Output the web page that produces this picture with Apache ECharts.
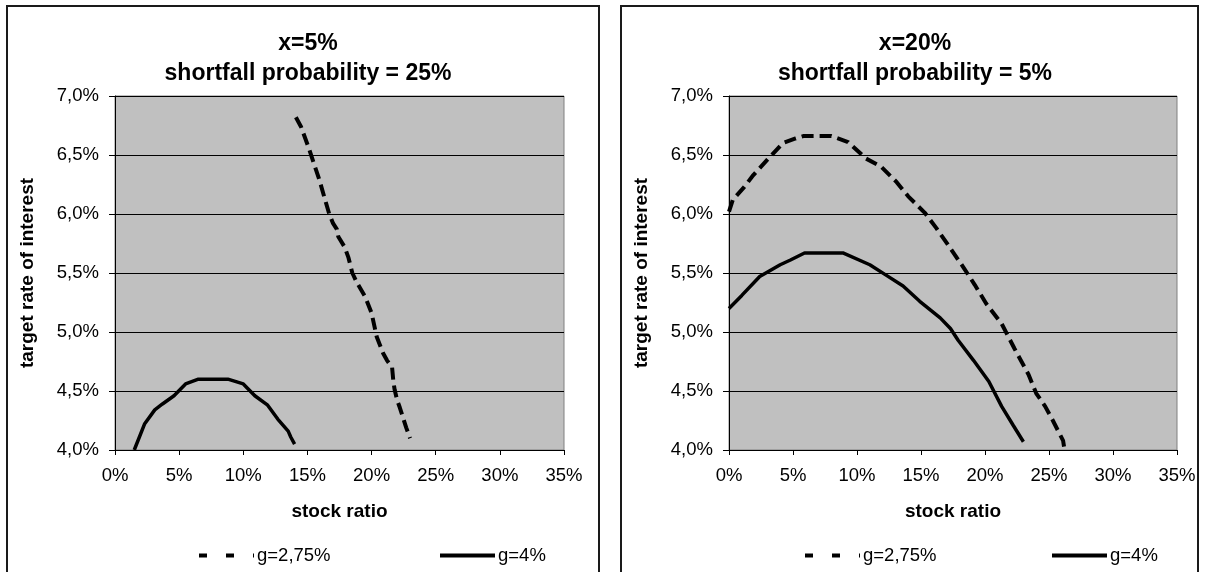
<!DOCTYPE html>
<html>
<head>
<meta charset="utf-8">
<script src="https://cdn.jsdelivr.net/npm/echarts@6/dist/echarts.min.js"></script>
<style>
  html, body { margin: 0; padding: 0; background: #ffffff; }
  #chart { width: 1210px; height: 572px; }
</style>
</head>
<body>
<div id="chart"></div>
<script>
// Stock ratio (%) and target rate of interest (%) for each curve.
// Panel 1: x = 5%, shortfall probability = 25%
const leftStockG275 = [14.1, 14.5, 15.1, 15.5, 15.9, 16.3, 16.7, 17.0, 17.3, 17.4, 17.9, 18.2, 18.5, 18.9, 19.5, 20.0, 20.4, 20.9, 21.2, 21.6, 21.7, 21.8, 22.0, 22.2, 22.7, 23.0];
const leftRateG275  = [6.82, 6.74, 6.56, 6.43, 6.30, 6.15, 6.00, 5.92, 5.87, 5.81, 5.72, 5.63, 5.50, 5.41, 5.30, 5.16, 4.96, 4.82, 4.76, 4.70, 4.58, 4.51, 4.42, 4.36, 4.19, 4.10];
const leftStockG4 = [1.5, 2.3, 3.1, 3.7, 4.6, 5.5, 6.5, 8.8, 10.0, 10.9, 11.9, 12.7, 13.5, 13.7, 14.0];
const leftRateG4  = [4.00, 4.22, 4.34, 4.39, 4.46, 4.56, 4.60, 4.60, 4.56, 4.46, 4.38, 4.26, 4.16, 4.11, 4.05];

// Panel 2: x = 20%, shortfall probability = 5%
const rightStockG275 = [0, 0.3, 1.2, 1.9, 3.0, 4.2, 5.2, 5.8, 8.0, 9.3, 10.7, 11.9, 13.1, 14.0, 15.3, 16.2, 17.1, 18.3, 19.2, 20.1, 21.3, 22.3, 23.4, 24.0, 24.7, 25.3, 26.1, 26.2];
const rightRateG275  = [6.02, 6.12, 6.23, 6.33, 6.46, 6.60, 6.64, 6.66, 6.66, 6.61, 6.47, 6.40, 6.27, 6.15, 6.01, 5.88, 5.74, 5.55, 5.40, 5.24, 5.07, 4.86, 4.64, 4.48, 4.37, 4.25, 4.08, 4.01];
const rightStockG4 = [0, 1.0, 2.4, 4.0, 4.8, 5.9, 8.9, 11.0, 12.3, 13.6, 14.9, 16.5, 17.3, 17.9, 19.1, 20.3, 21.3, 22.2, 23.0];
const rightRateG4  = [5.20, 5.31, 5.47, 5.57, 5.61, 5.67, 5.67, 5.57, 5.48, 5.39, 5.26, 5.12, 5.03, 4.93, 4.76, 4.58, 4.37, 4.21, 4.07];

const seriesNames = ['g=2,75%', 'g=4%'];
const panelTitles = ['x=5%\nshortfall probability = 25%', 'x=20%\nshortfall probability = 5%'];
const xAxisTitle = 'stock ratio';
const yAxisTitle = 'target rate of interest';

const pairs = (xs, ys) => xs.map((x, i) => [x, ys[i]]);

const FONT = 'Liberation Sans, Arial, sans-serif';
const panels = [
  { box: [7, 6, 592, 600], grid: { left: 115, top: 96, width: 449, height: 354 }, titleX: 303, legend: [197, 438] },
  { box: [621, 6, 577, 600], grid: { left: 729, top: 96, width: 448, height: 354 }, titleX: 910, legend: [803, 1050] }
];
const panelData = [
  [pairs(leftStockG275, leftRateG275), pairs(leftStockG4, leftRateG4)],
  [pairs(rightStockG275, rightRateG275), pairs(rightStockG4, rightRateG4)]
];

const dashMain = [12, 6];
const dashLegend = [8, 19];

const option = {
  animation: false,
  backgroundColor: '#ffffff',
  textStyle: { fontFamily: FONT },
  title: panels.map((p, i) => ({
    text: panelTitles[i],
    left: p.titleX,
    top: 24,
    textAlign: 'center',
    textStyle: { fontFamily: FONT, fontSize: 23, fontWeight: 'bold', color: '#000', lineHeight: 30 }
  })),
  graphic: panels.map(p => ({
    type: 'rect',
    shape: { x: p.box[0], y: p.box[1], width: p.box[2], height: p.box[3] },
    style: { fill: 'none', stroke: '#1a1a1a', lineWidth: 2 },
    silent: true,
    z: -1
  })),
  legend: panels.flatMap((p, i) => seriesNames.map((name, k) => ({
    data: [name],
    left: p.legend[k],
    top: 546,
    padding: 0,
    itemWidth: 55,
    itemHeight: 16,
    itemGap: 0,
    selectedMode: false,
    itemStyle: { opacity: 0 },
    lineStyle: { type: k === 0 ? dashLegend : 'solid', width: 4, color: '#000' },
    textStyle: { fontFamily: FONT, fontSize: 18.5, color: '#000', padding: [0, 0, 0, -2] }
  }))),
  grid: panels.map(p => Object.assign({
    show: true,
    backgroundColor: '#c0c0c0',
    borderColor: '#808080',
    borderWidth: 1
  }, p.grid)),
  xAxis: panels.map((p, i) => ({
    type: 'value',
    gridIndex: i,
    min: 0,
    max: 35,
    interval: 5,
    name: xAxisTitle,
    nameLocation: 'middle',
    nameGap: 52,
    nameTextStyle: { fontFamily: FONT, fontSize: 19, fontWeight: 'bold', color: '#000' },
    axisLine: { show: true, lineStyle: { color: '#000', width: 1 } },
    axisTick: { show: true, inside: false, length: 5, lineStyle: { color: '#000' } },
    axisLabel: { margin: 16, fontFamily: FONT, fontSize: 18.5, color: '#000', formatter: v => v + '%' },
    splitLine: { show: false }
  })),
  yAxis: panels.map((p, i) => ({
    type: 'value',
    gridIndex: i,
    min: 4,
    max: 7,
    interval: 0.5,
    name: yAxisTitle,
    nameLocation: 'middle',
    nameGap: 78,
    nameTextStyle: { fontFamily: FONT, fontSize: 19, fontWeight: 'bold', color: '#000' },
    axisLine: { show: true, lineStyle: { color: '#000', width: 1 } },
    axisTick: { show: true, inside: false, length: 6, lineStyle: { color: '#000' } },
    axisLabel: { margin: 16, fontFamily: FONT, fontSize: 18.5, color: '#000', formatter: v => v.toFixed(1).replace('.', ',') + '%' },
    splitLine: { show: true, lineStyle: { color: '#000', width: 1 } }
  })),
  series: panels.flatMap((p, i) => seriesNames.map((name, k) => ({
    name: name,
    type: 'line',
    xAxisIndex: i,
    yAxisIndex: i,
    data: panelData[i][k],
    symbol: 'none',
    smooth: false,
    itemStyle: { color: '#000' },
    lineStyle: { color: '#000', width: k === 0 ? 4 : 3.5, type: k === 0 ? dashMain : 'solid' },
    z: 3
  })))
};

const chart = echarts.init(document.getElementById('chart'), null, { renderer: 'canvas' });
chart.setOption(option);
</script>
</body>
</html>
